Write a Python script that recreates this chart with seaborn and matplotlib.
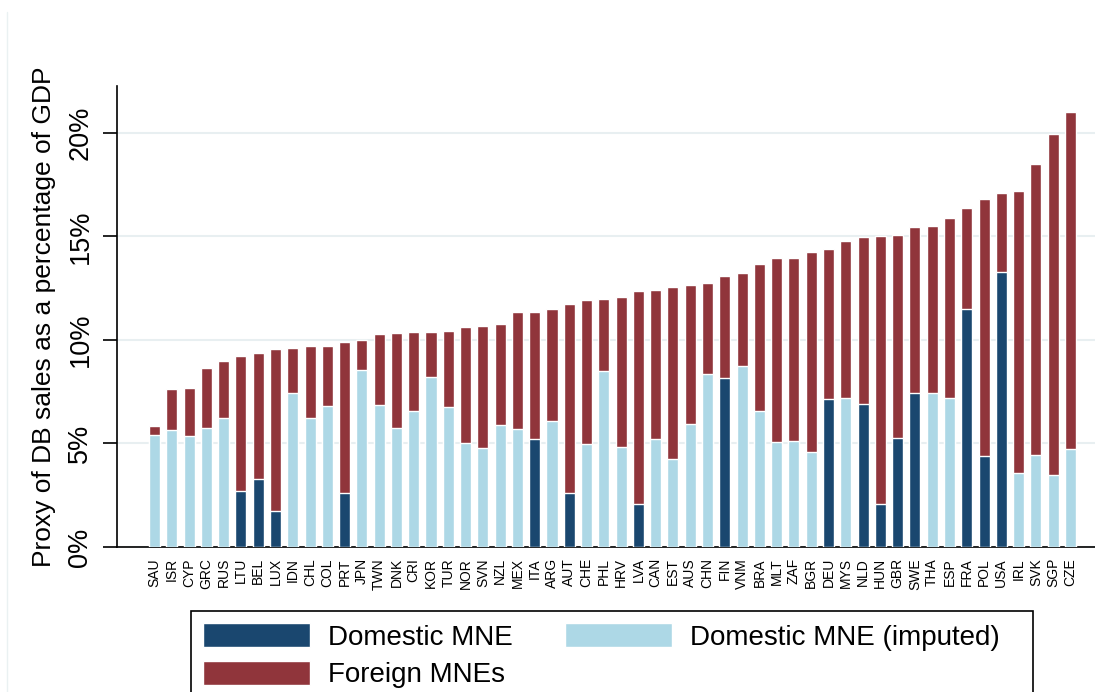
import numpy as np
import pandas as pd
import matplotlib
matplotlib.use("Agg")
import matplotlib.pyplot as plt
from matplotlib.patches import Patch, Rectangle
from matplotlib.lines import Line2D
import seaborn as sns

# Dados (% do PIB)
countries = ["SAU", "ISR", "CYP", "GRC", "RUS", "LTU", "BEL", "LUX", "IDN", "CHL",
             "COL", "PRT", "JPN", "TWN", "DNK", "CRI", "KOR", "TUR", "NOR", "SVN",
             "NZL", "MEX", "ITA", "ARG", "AUT", "CHE", "PHL", "HRV", "LVA", "CAN",
             "EST", "AUS", "CHN", "FIN", "VNM", "BRA", "MLT", "ZAF", "BGR", "DEU",
             "MYS", "NLD", "HUN", "GBR", "SWE", "THA", "ESP", "FRA", "POL", "USA",
             "IRL", "SVK", "SGP", "CZE"]
total = [5.86, 7.64, 7.69, 8.66, 8.99, 9.24, 9.38, 9.57, 9.62, 9.72,
         9.72, 9.91, 10.01, 10.31, 10.35, 10.39, 10.39, 10.44, 10.64, 10.68,
         10.78, 11.36, 11.36, 11.50, 11.75, 11.94, 11.99, 12.08, 12.37, 12.42,
         12.57, 12.66, 12.76, 13.10, 13.24, 13.68, 13.97, 13.97, 14.26, 14.40,
         14.79, 14.98, 15.03, 15.08, 15.46, 15.51, 15.90, 16.38, 16.81, 17.10,
         17.20, 18.50, 19.97, 21.01]
domestic = [5.41, 5.66, 5.36, 5.76, 6.24, 2.72, 3.30, 1.75, 7.45, 6.23,
            6.82, 2.62, 8.56, 6.87, 5.76, 6.56, 8.22, 6.77, 5.04, 4.79,
            5.91, 5.71, 5.23, 6.10, 2.62, 4.99, 8.50, 4.84, 2.09, 5.23,
            4.26, 5.95, 8.37, 8.17, 8.75, 6.58, 5.08, 5.13, 4.60, 7.16,
            7.21, 6.92, 2.09, 5.28, 7.45, 7.45, 7.19, 11.49, 4.41, 13.29,
            3.59, 4.46, 3.49, 4.75]
observed = ["LTU", "BEL", "LUX", "PRT", "ITA", "AUT", "LVA", "FIN", "DEU", "NLD",
            "HUN", "GBR", "SWE", "FRA", "POL", "USA"]

lab_dom = "Domestic MNE"
lab_imp = "Domestic MNE (imputed)"
lab_for = "Foreign MNEs"
col_dom = "#1a476f"
col_imp = "#add8e6"
col_for = "#90353b"

df = pd.DataFrame({"country": countries, "total": total, "domestic": domestic})
df["tipo"] = [lab_dom if c in observed else lab_imp for c in countries]

sns.set_style("white")
plt.rcParams["font.family"] = ["Liberation Sans", "DejaVu Sans"]
plt.rcParams["text.color"] = "black"
plt.rcParams["axes.labelcolor"] = "black"
plt.rcParams["xtick.color"] = "black"
plt.rcParams["ytick.color"] = "black"

fig = plt.figure(figsize=(10.95, 6.92), dpi=100)
ax = fig.add_axes([117 / 1095, 1 - 547 / 692, 1 - 117 / 1095, (547 - 86) / 692])

# barra total (estrangeiras por cima) e parte doméstica por baixo
sns.barplot(data=df, x="country", y="total", order=countries, color=col_for,
            width=0.64, saturation=1, ax=ax, zorder=2)
sns.barplot(data=df, x="country", y="domestic", hue="tipo", order=countries,
            hue_order=[lab_dom, lab_imp], palette={lab_dom: col_dom, lab_imp: col_imp},
            dodge=False, width=0.64, saturation=1, legend=False, ax=ax, zorder=3)

ax.set_xlim(-2.17, 54.42)
ax.set_ylim(0, 22.27)
ax.set_yticks([0, 5, 10, 15, 20])
ax.set_yticklabels(["0%", "5%", "10%", "15%", "20%"], rotation=90, va="center")
ax.tick_params(axis="y", length=10, width=1.2, color="black", labelcolor="black",
               pad=7, labelsize=19.5, left=True)
ax.tick_params(axis="x", length=0, pad=8, labelsize=10, rotation=90, labelcolor="black")
ax.set_xlabel("")
ax.set_ylabel("Proxy of DB sales as a percentage of GDP", fontsize=19, labelpad=8,
              color="black")
ax.grid(axis="y", color="#e8eff1", linewidth=1.5, zorder=0)
ax.set_axisbelow(True)
for s in ["top", "right"]:
    ax.spines[s].set_visible(False)
for s in ["left", "bottom"]:
    ax.spines[s].set_color("black")
    ax.spines[s].set_linewidth(1.2)

handles = [Patch(facecolor=col_dom, label=lab_dom),
           Patch(facecolor=col_for, label=lab_for),
           Patch(facecolor=col_imp, label=lab_imp)]
leg = fig.legend(handles=handles, ncol=2, loc="upper left",
                 bbox_to_anchor=(191 / 1095, 1 - 611 / 692), bbox_transform=fig.transFigure,
                 fontsize=20, frameon=False,
                 handlelength=3.85, handleheight=0.97, handletextpad=0.65,
                 columnspacing=1.87, labelspacing=0.36, borderpad=0.43, borderaxespad=0)

# caixa da legenda (mais larga que o conteúdo, como no original)
fig.add_artist(Rectangle((191 / 1095, -0.05), (1033 - 191) / 1095, 1 - 611 / 692 + 0.05,
                         transform=fig.transFigure, fill=False, edgecolor="black",
                         linewidth=1.2))

# moldura externa clara
fig.add_artist(Line2D([6.5 / 1095, 6.5 / 1095], [0, 1 - 12 / 692], color="#eaf1f2", linewidth=1))

fig.savefig("out.png", dpi=100, facecolor="white")
